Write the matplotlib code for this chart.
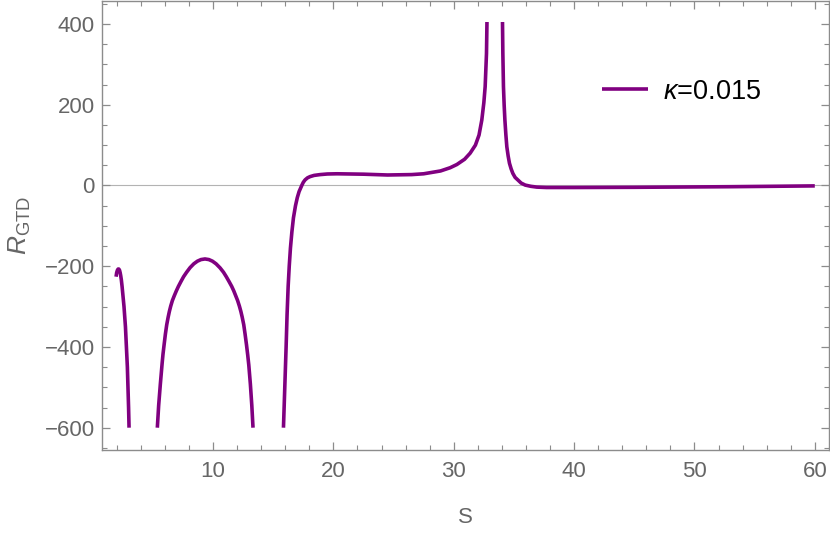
#!/usr/bin/env python3
import numpy as np
import matplotlib
matplotlib.use("Agg")
import matplotlib.pyplot as plt
from matplotlib.ticker import MultipleLocator

plt.rcParams['font.family'] = ['Liberation Sans', 'DejaVu Sans']
plt.rcParams['mathtext.fontset'] = 'custom'
plt.rcParams['mathtext.rm'] = 'Liberation Sans'
plt.rcParams['mathtext.it'] = 'Liberation Sans:italic'

# values, one list per branch between the poles
s_a = [1.94, 1.99, 2.05, 2.11, 2.17, 2.23, 2.28, 2.33, 2.38, 2.44, 2.52, 2.60,
       2.66, 2.72, 2.80, 2.88, 2.93, 2.98, 3.02]
r_a = [-226, -216, -210, -207, -207, -210, -216, -224, -234, -250, -275, -300,
       -325, -350, -400, -450, -500, -550, -600]

s_b = [5.37, 5.48, 5.62, 5.77, 5.84, 5.93, 6.04, 6.15, 6.27, 6.37, 6.48, 6.62,
       6.78, 6.95, 7.12, 7.33, 7.55, 7.80, 8.09, 8.40, 8.70, 9.00, 9.33,
       9.65, 9.95, 10.25, 10.58, 10.87, 11.10, 11.33, 11.55, 11.72, 11.88,
       12.04, 12.19, 12.31, 12.42, 12.55, 12.66, 12.78, 12.88, 12.97, 13.10,
       13.22, 13.32]
r_b = [-600, -545, -492, -440, -418, -395, -368, -345, -326, -312, -299, -285,
       -273, -261, -250, -238, -226, -215, -203.5, -194, -187.5, -183.5, -182,
       -183.5, -187.5, -194, -204, -215, -226, -238, -250, -261, -273,
       -285, -299, -312, -326, -345, -368, -395, -420, -445, -492,
       -545, -600]

s_c = [15.85, 15.96, 16.07, 16.15, 16.24, 16.33, 16.43, 16.55, 16.68, 16.85, 17.0,
       17.15, 17.37, 17.5, 17.65, 17.85, 18.06, 18.4, 18.9, 19.5, 20.3, 22.5, 24.5,
       26.5, 27.5, 28.9, 29.7, 30.26, 30.9, 31.36, 31.8, 32.1, 32.33, 32.5, 32.61,
       32.72, 32.76]
r_c = [-600, -500, -400, -320, -250, -200, -155, -115, -80, -50, -30,
       -15, 0, 8, 14, 19, 22, 25, 27, 28.5, 29, 28, 26,
       27, 29, 36, 44, 52, 65, 80, 100, 125, 162, 205, 245,
       327, 405]

s_d = [34.05, 34.08, 34.13, 34.19, 34.25, 34.33, 34.41, 34.52, 34.63, 34.77, 34.91,
       35.1, 35.33, 35.6, 35.94, 36.4, 36.9, 37.7, 40.0, 45.0, 53.0, 60.0]
r_d = [405, 327, 245, 198, 162, 126, 96, 73, 55, 41, 30,
       20, 13.6, 6, 1, -2, -4, -5, -5, -4.5, -3, -1]

branches = [(s_a, r_a), (s_b, r_b), (s_c, r_c), (s_d, r_d)]
legend_label = r'$\kappa$=0.015'

purple = '#800080'
grey_txt = '#666666'
grey_frame = '#8c8c8c'

fig = plt.figure(figsize=(8.3, 5.33), dpi=100)
ax = fig.add_axes([0.1233, 0.1563, 0.8752, 0.8418])

ax.axhline(0, color='#b3b3b3', lw=0.8, zorder=1)
for i, (s, r) in enumerate(branches):
    ax.plot(s, r, color=purple, lw=2.6, solid_capstyle='butt',
            solid_joinstyle='round',
            label=legend_label if i == 0 else None, zorder=3)

ax.set_xlim(0.80, 61.16)
ax.set_ylim(-654.5, 457)

ax.xaxis.set_major_locator(MultipleLocator(10))
ax.xaxis.set_minor_locator(MultipleLocator(2))
ax.yaxis.set_major_locator(MultipleLocator(200))
ax.yaxis.set_minor_locator(MultipleLocator(50))

for sp in ax.spines.values():
    sp.set_color(grey_frame)
    sp.set_linewidth(1.0)

ax.tick_params(which='both', direction='in', top=True, right=True,
               color=grey_frame, labelcolor=grey_txt, labelsize=16)
ax.tick_params(which='major', length=5.8, width=0.9)
ax.tick_params(which='minor', length=3.3, width=0.8)
ax.tick_params(axis='x', which='major', pad=8)
ax.tick_params(axis='y', which='major', pad=5.5)

ax.set_xlabel('S', fontsize=16, color=grey_txt, labelpad=18.5)
ax.set_ylabel(r'$R_{\mathrm{GTD}}$', fontsize=19, color=grey_txt, labelpad=8)

ax.legend(loc='center left', bbox_to_anchor=(0.688, 0.798), frameon=False,
          fontsize=19.5, handlelength=1.7, handletextpad=0.56,
          borderpad=0, borderaxespad=0)

fig.savefig('out.png', dpi=100)
